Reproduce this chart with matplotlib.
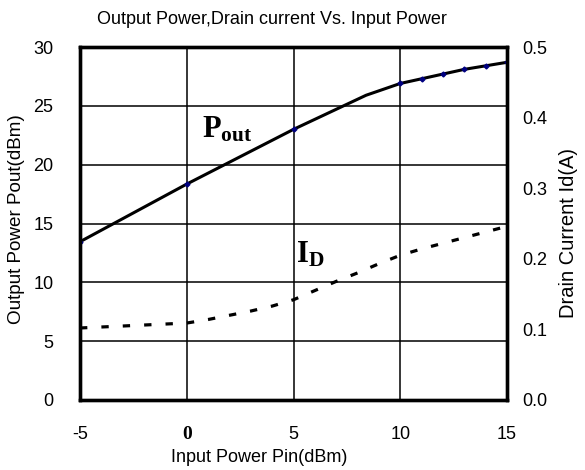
import matplotlib
matplotlib.use("Agg")
import matplotlib.pyplot as plt

plt.rcParams['font.family'] = ['Liberation Sans', 'DejaVu Sans']
plt.rcParams['mathtext.fontset'] = 'custom'
plt.rcParams['mathtext.rm'] = 'Liberation Serif'
plt.rcParams['mathtext.bf'] = 'Liberation Serif:bold'
plt.rcParams['mathtext.it'] = 'Liberation Serif:italic'

# Data
pin_pout = [-5, 0, 5, 8.4, 10, 11, 12, 13, 14, 15]
pout = [13.45, 18.35, 23.0, 25.9, 26.9, 27.3, 27.7, 28.1, 28.4, 28.7]
pout_marks = [0, 1, 2, 4, 5, 6, 7, 8, 9]

pin_id = [-5, 0, 1, 2, 3, 4, 5, 6, 7, 8, 9, 10, 11, 12, 13, 14, 15]
id_a = [0.102, 0.109, 0.114, 0.120, 0.126, 0.133, 0.142, 0.155, 0.168,
        0.180, 0.193, 0.205, 0.214, 0.222, 0.230, 0.238, 0.246]

x_ticks = [-5, 0, 5, 10, 15]
x_ticklabels = ['-5', '0', '5', '10', '15']
left_ticks = [0, 5, 10, 15, 20, 25, 30]
right_ticks = [0.0, 0.1, 0.2, 0.3, 0.4, 0.5]

FS = 13

fig = plt.figure(figsize=(5.85, 4.7), dpi=100)
ax = fig.add_axes([80/585, 70/470, 427/585, 353/470])
ax2 = ax.twinx()

ax.plot(pin_pout, pout, color='black', lw=2.2, marker='D', markersize=2.5,
        markerfacecolor='#000080', markeredgecolor='#000080', markevery=pout_marks,
        zorder=3, solid_joinstyle='round')
ax2.plot(pin_id, id_a, color='black', lw=2.3, dashes=(2.3, 4.4), zorder=3,
         dash_capstyle='butt')

ax.set_xlim(-5, 15)
ax.set_ylim(0, 30)
ax2.set_ylim(0, 0.5)

ax.set_xticks(x_ticks)
ax.set_xticklabels(x_ticklabels)
ax.set_yticks(left_ticks)
ax2.set_yticks(right_ticks)
ax2.set_yticklabels([f'{v:.1f}' for v in right_ticks])

ax.grid(True, color='black', lw=1.1)
ax.set_axisbelow(True)
ax.tick_params(axis='both', length=0, labelsize=FS)
ax.tick_params(axis='y', pad=19)
ax.tick_params(axis='x', pad=19)
ax2.tick_params(axis='y', length=0, labelsize=FS, pad=11)

for lbl in ax.get_xticklabels():
    if lbl.get_text() == '0':
        lbl.set_fontfamily('Liberation Serif')
        lbl.set_fontweight('bold')
        lbl.set_fontsize(FS + 1)

for a in (ax, ax2):
    for s in a.spines.values():
        s.set_linewidth(2.4)

fig.text(259/585, 1 - 458/470, 'Input Power Pin(dBm)', fontsize=FS, ha='center', va='center')
fig.text(17/585, 1 - 219/470, 'Output Power Pout(dBm)', fontsize=13.6, ha='center', va='center',
         rotation=90)
fig.text(569/585, 1 - 233/470, 'Drain Current Id(A)', fontsize=14.5, ha='center', va='center',
         rotation=90)
fig.text(272/585, 1 - 20/470, 'Output Power,Drain current Vs. Input Power', fontsize=FS,
         ha='center', va='center')

ax.text(0.71, 22.35, r'$\mathbf{P}_{\mathbf{out}}$', fontsize=22, ha='left', va='baseline')
ax.text(5.1, 11.7, r'$\mathbf{I}_{\mathbf{D}}$', fontsize=22, ha='left', va='baseline')

fig.savefig('out.png', dpi=100)
